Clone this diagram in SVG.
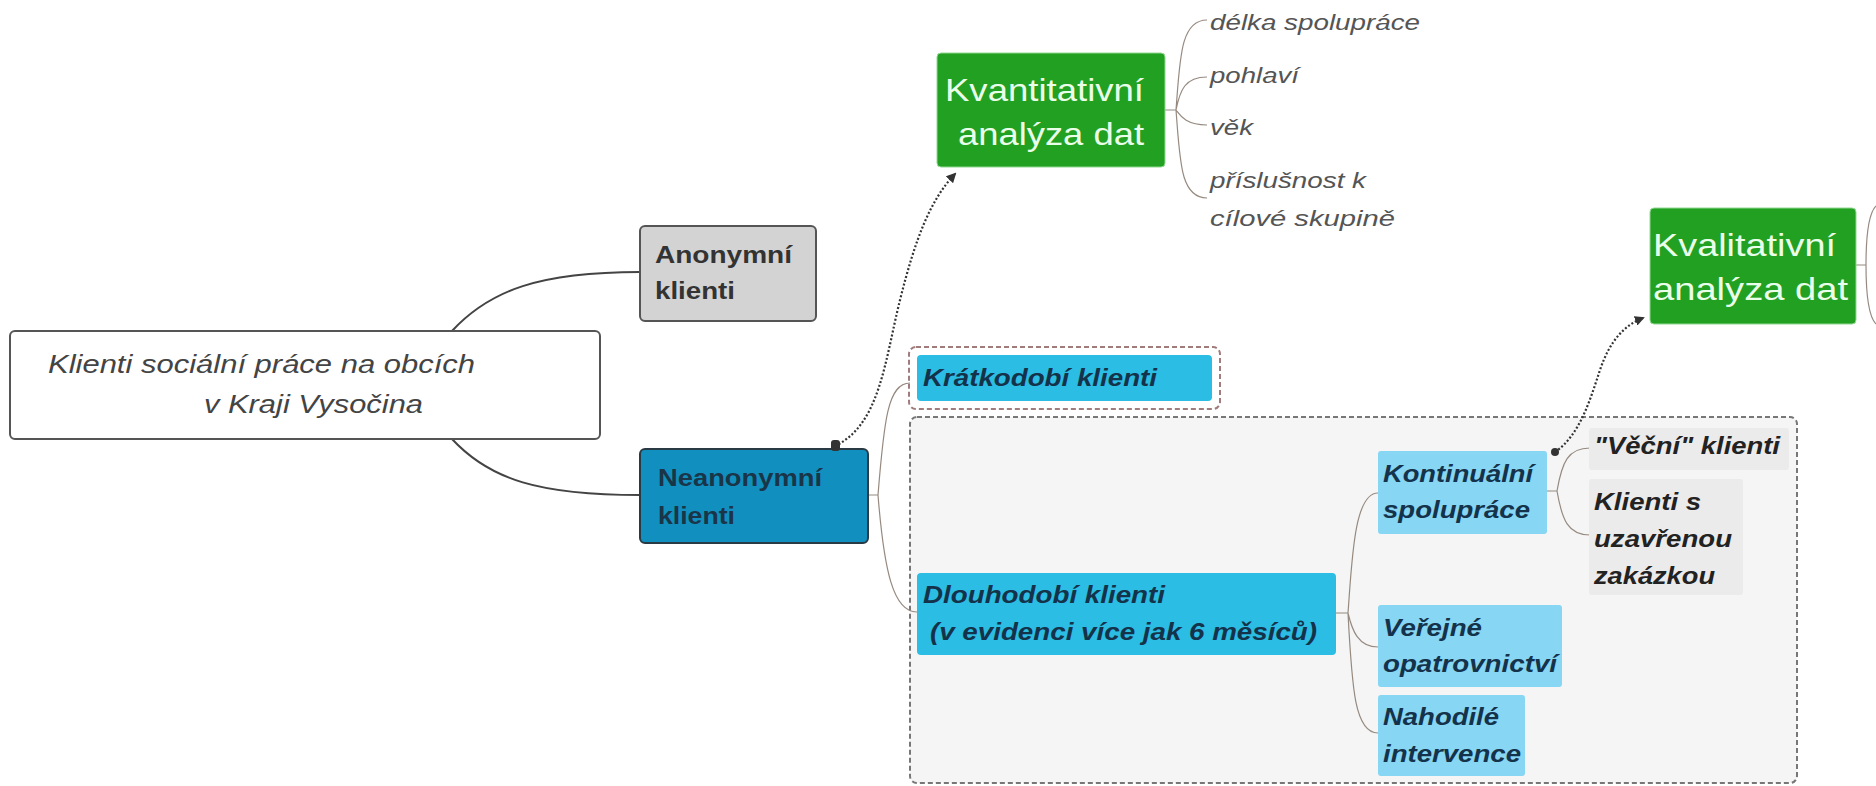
<svg xmlns="http://www.w3.org/2000/svg" width="1876" height="786" viewBox="0 0 1876 786">
<defs>
<marker id="arr" markerWidth="10" markerHeight="10" refX="8" refY="5" orient="auto" markerUnits="userSpaceOnUse">
<path d="M0,0 L10,5 L0,10 Z" fill="#333"/>
</marker>
<style>
text{font-family:"Liberation Sans",Arial,sans-serif}
.main{font-size:26px;font-style:italic;fill:#444}
.lvl1{font-size:24px;font-weight:bold}
.green{font-size:32px;fill:#eaffea}
.leaf{font-size:22px;font-style:italic;fill:#555}
.blue{font-size:23px;font-weight:bold;font-style:italic;fill:#14324a}
.gray{font-size:23px;font-weight:bold;font-style:italic;fill:#222}
.thick{fill:none;stroke:#444;stroke-width:2}
.thin{fill:none;stroke:#968a80;stroke-width:1.2}
.dot{fill:none;stroke:#333;stroke-width:2.2;stroke-dasharray:2 2}
</style>
</defs>
<rect width="1876" height="786" fill="#fff"/>

<g id="containers">
<rect x="910" y="417" width="887" height="366" rx="7" fill="#f5f5f5" stroke="#777" stroke-width="2" stroke-dasharray="5 3"/>
<rect x="909" y="347" width="311" height="62" rx="7" fill="#fff" stroke="#a07c7c" stroke-width="2" stroke-dasharray="5 3"/>
</g>

<g id="connectors">
<path class="thick" d="M452,331 C490,290 540,272 640,272"/>
<path class="thick" d="M452,439 C490,480 540,495 640,495"/>
<path class="thin" d="M868,495 H878 M878,495 C884,420 888,383 910,383 M878,495 C884,570 893,612 917,612"/>
<path class="thin" d="M1165,110 H1176 M1176,110 C1180,60 1180,20 1207,20 M1176,110 C1180,90 1185,77 1207,77 M1176,110 C1180,115 1185,125 1207,125 M1176,110 C1180,160 1180,198 1207,198"/>
<path class="thin" d="M1336,613 H1348 M1348,613 C1352,560 1354,493 1378,493 M1348,613 C1352,630 1358,647 1378,647 M1348,613 C1352,690 1355,733 1378,733"/>
<path class="thin" d="M1547,491 H1557 M1557,491 C1562,462 1568,448 1590,448 M1557,491 C1562,520 1568,535 1590,535"/>
<path class="thin" d="M1856,265 H1866 M1866,265 C1866,230 1870,212 1876,206 M1866,265 C1866,300 1870,318 1876,324"/>
<path class="dot" d="M835,446 C880,425 885,360 900,300 S930,200 955,174" marker-end="url(#arr)"/>
<path class="dot" d="M1555,452 C1580,435 1590,400 1600,370 S1625,325 1643,318" marker-end="url(#arr)"/>
</g>

<g id="n-root">
<rect x="10" y="331" width="590" height="108" rx="5" fill="#fff" stroke="#555" stroke-width="2"/>
<text class="main" x="48" y="373" textLength="427" lengthAdjust="spacingAndGlyphs">Klienti sociální práce na obcích</text>
<text class="main" x="204" y="413" textLength="219" lengthAdjust="spacingAndGlyphs">v Kraji Vysočina</text>
</g>

<g id="n-anonymni">
<rect x="640" y="226" width="176" height="95" rx="5" fill="#d3d3d3" stroke="#555" stroke-width="2"/>
<text class="lvl1" x="655" y="263" fill="#333" textLength="137" lengthAdjust="spacingAndGlyphs">Anonymní</text>
<text class="lvl1" x="655" y="299" fill="#333" textLength="80" lengthAdjust="spacingAndGlyphs">klienti</text>
</g>

<g id="n-neanonymni">
<rect x="640" y="449" width="228" height="94" rx="5" fill="#1190c0" stroke="#2a3a45" stroke-width="2"/>
<text class="lvl1" x="658" y="486" fill="#1a3548" textLength="164" lengthAdjust="spacingAndGlyphs">Neanonymní</text>
<text class="lvl1" x="658" y="524" fill="#1a3548" textLength="77" lengthAdjust="spacingAndGlyphs">klienti</text>
</g>

<g id="n-kvantitativni">
<rect x="937" y="53" width="228" height="114" rx="4" fill="#22a022" stroke="#8fd88f" stroke-width="1"/>
<text class="green" x="945" y="101" textLength="199" lengthAdjust="spacingAndGlyphs">Kvantitativní</text>
<text class="green" x="958" y="145" textLength="186" lengthAdjust="spacingAndGlyphs">analýza dat</text>
</g>

<g id="n-delka"><text class="leaf" x="1210" y="30" textLength="210" lengthAdjust="spacingAndGlyphs">délka spolupráce</text></g>
<g id="n-pohlavi"><text class="leaf" x="1210" y="83" textLength="89" lengthAdjust="spacingAndGlyphs">pohlaví</text></g>
<g id="n-vek"><text class="leaf" x="1210" y="135" textLength="43" lengthAdjust="spacingAndGlyphs">věk</text></g>
<g id="n-prislusnost">
<text class="leaf" x="1210" y="188" textLength="156" lengthAdjust="spacingAndGlyphs">příslušnost k</text>
<text class="leaf" x="1210" y="226" textLength="185" lengthAdjust="spacingAndGlyphs">cílové skupině</text>
</g>

<g id="n-kvalitativni">
<rect x="1650" y="208" width="206" height="116" rx="4" fill="#22a022" stroke="#8fd88f" stroke-width="1"/>
<text class="green" x="1653" y="256" textLength="183" lengthAdjust="spacingAndGlyphs">Kvalitativní</text>
<text class="green" x="1653" y="300" textLength="195" lengthAdjust="spacingAndGlyphs">analýza dat</text>
</g>

<g id="n-kratkodobi">
<rect x="917" y="355" width="295" height="46" rx="4" fill="#2bbde3"/>
<text class="blue" x="923" y="386" textLength="234" lengthAdjust="spacingAndGlyphs">Krátkodobí klienti</text>
</g>

<g id="n-dlouhodobi">
<rect x="917" y="573" width="419" height="82" rx="4" fill="#2bbde3"/>
<text class="blue" x="923" y="603" textLength="242" lengthAdjust="spacingAndGlyphs">Dlouhodobí klienti</text>
<text class="blue" x="930" y="640" textLength="387" lengthAdjust="spacingAndGlyphs">(v evidenci více jak 6 měsíců)</text>
</g>

<g id="n-kontinualni">
<rect x="1378" y="451" width="169" height="83" rx="3" fill="#86d6f4"/>
<text class="blue" x="1383" y="482" textLength="150" lengthAdjust="spacingAndGlyphs">Kontinuální</text>
<text class="blue" x="1383" y="518" textLength="147" lengthAdjust="spacingAndGlyphs">spolupráce</text>
</g>

<g id="n-verejne">
<rect x="1378" y="605" width="184" height="82" rx="3" fill="#86d6f4"/>
<text class="blue" x="1383" y="636" textLength="99" lengthAdjust="spacingAndGlyphs">Veřejné</text>
<text class="blue" x="1383" y="672" textLength="174" lengthAdjust="spacingAndGlyphs">opatrovnictví</text>
</g>

<g id="n-nahodile">
<rect x="1378" y="695" width="147" height="81" rx="3" fill="#86d6f4"/>
<text class="blue" x="1383" y="725" textLength="116" lengthAdjust="spacingAndGlyphs">Nahodilé</text>
<text class="blue" x="1383" y="762" textLength="138" lengthAdjust="spacingAndGlyphs">intervence</text>
</g>

<g id="n-vecni">
<rect x="1589" y="428" width="200" height="42" rx="3" fill="#ebebeb"/>
<text class="gray" x="1594" y="454" textLength="186" lengthAdjust="spacingAndGlyphs">"Věční" klienti</text>
</g>

<g id="n-uzavrena">
<rect x="1589" y="479" width="154" height="116" rx="3" fill="#ebebeb"/>
<text class="gray" x="1594" y="510" textLength="107" lengthAdjust="spacingAndGlyphs">Klienti s</text>
<text class="gray" x="1594" y="547" textLength="138" lengthAdjust="spacingAndGlyphs">uzavřenou</text>
<text class="gray" x="1594" y="584" textLength="121" lengthAdjust="spacingAndGlyphs">zakázkou</text>
</g>

<g id="markers">
<rect x="831" y="440" width="9" height="11" rx="3" fill="#333"/>
<circle cx="1555" cy="452" r="4" fill="#333"/>
</g>
</svg>
